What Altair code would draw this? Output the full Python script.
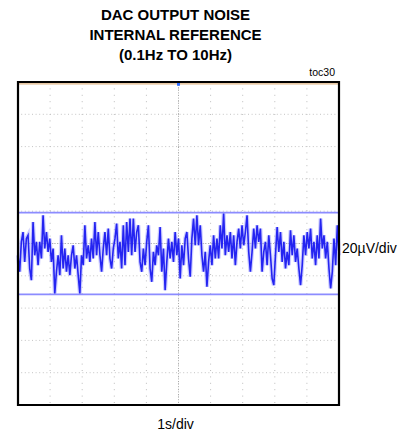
import altair as alt
import numpy as np
import pandas as pd

# ---- data (µV) ----
noise_uv = [
    # 0 - 2.5 s
    -7.3, -17.5, 1.0, 7.1, -11.4, 3.0, 5.1, -15.5, -22.7, 13.3, -7.3, 1.0, -13.4, 1.0, -9.3, 17.4,
    -3.1, 7.1, -5.2, 3.0, -11.4, -3.1, -30.9, -17.5, -7.3, -19.6, 5.1, -15.5, -3.1, -17.5, -7.3, -19.6,
    -7.3, -1.1, -15.5, -7.3, -19.6, -30.9, -7.3, -13.4, 11.3, -9.3, -1.1, -11.4, 3.0, -9.3, 13.3, -7.3, 7.1,
    # 2.5 - 5 s
    -7.3, -17.5, -3.1, 7.1, -7.3, 9.2, -9.3, -15.5, -3.1, 3.0, 12.3, -9.3, 1.0, -15.5, 11.3, -13.4,
    13.3, -5.2, 15.4, -7.3, 15.4, -5.2, 7.1, 11.3, -11.4, -17.5, -3.1, -13.4, 1.0, 11.3, -15.5, -23.7,
    -5.2, -13.4, -1.1, -7.3, 10.2, -17.5, -3.1, -28.9, -11.4, 3.0, -9.3, 1.0, -11.4, 7.1, -7.3, 3.0,
    # 5 - 7.5 s
    -21.7, -1.1, -13.4, 3.0, 7.1, -9.3, -20.6, 3.0, 15.4, -1.1, 17.4, -1.1, 11.3, -7.3, -17.5, -5.2,
    -26.8, -11.4, -1.1, -13.4, 5.1, -9.3, 3.0, -9.3, 11.3, -3.1, 18.5, -7.3, 5.1, -5.2, 7.1, -9.3,
    5.1, -13.4, 1.0, 9.2, -3.1, 11.3, -1.1, 7.1, 17.4, -5.2, -17.5, -5.2, 9.2, -3.1, 11.3, 1.0,
    # 7.5 - 10 s
    9.2, -17.5, -5.2, 1.0, -13.4, 5.1, -7.3, -21.7, -25.8, -7.3, 10.2, -5.2, 7.1, -11.4, 1.0, -15.5,
    -5.2, -13.4, 8.2, -7.3, 5.1, -11.4, -3.1, -15.5, -25.8, -13.4, 5.1, -7.3, 7.1, -3.1, 9.2, -9.3,
    1.0, -13.4, 5.1, -9.3, 15.4, -3.1, 5.1, -9.3, 1.0, -15.5, -27.8, -17.5, 3.0, -13.4, 11.3, -7.3,
]
cursor_uv = [19.1, -31.5]
x_divs = list(range(0, 11))
y_divs = list(range(-100, 101, 20))
title_lines = ["DAC OUTPUT NOISE", "INTERNAL REFERENCE", "(0.1Hz TO 10Hz)"]
x_label = "1s/div"
y_label = "20µV/div"
tag = "toc30"

FONT = "Liberation Sans, Arial, Helvetica, sans-serif"

n = len(noise_uv)
trace = pd.DataFrame({"t": np.linspace(0, 10, n), "v": noise_uv})

W, H = 321, 323
xs = alt.Scale(domain=[0, 10], nice=False, zero=False)
ys = alt.Scale(domain=[-100, 100], nice=False, zero=False)

xgrid = alt.Chart(pd.DataFrame({"x": x_divs[1:-1]})).mark_rule(
    color="#bcbcbc", strokeWidth=1, strokeDash=[1, 5.4]
).encode(x=alt.X("x:Q", scale=xs, axis=None))
ygrid = alt.Chart(pd.DataFrame({"y": y_divs[1:-1]})).mark_rule(
    color="#c4c4c4", strokeWidth=1, strokeDash=[1, 2.6]
).encode(y=alt.Y("y:Q", scale=ys, axis=None))

xcenter = alt.Chart(pd.DataFrame({"x": [5]})).mark_rule(
    color="#a8a8a8", strokeWidth=1, strokeDash=[1, 1.6]
).encode(x=alt.X("x:Q", scale=xs, axis=None))
ycenter = alt.Chart(pd.DataFrame({"y": [0]})).mark_rule(
    color="#b0b0b0", strokeWidth=1, strokeDash=[1, 1.6]
).encode(y=alt.Y("y:Q", scale=ys, axis=None))

topline = alt.Chart(pd.DataFrame({"y": [98.9]})).mark_rule(
    color="#dfb585", strokeWidth=1.3
).encode(y=alt.Y("y:Q", scale=ys, axis=None))

marker = alt.Chart(pd.DataFrame({"x": [5], "y": [98.6]})).mark_square(
    color="#2f6cff", size=9, opacity=1
).encode(x=alt.X("x:Q", scale=xs, axis=None), y=alt.Y("y:Q", scale=ys, axis=None))

cursors = alt.Chart(pd.DataFrame({"y": cursor_uv})).mark_rule(
    color="#8c8cff", strokeWidth=1.6
).encode(y=alt.Y("y:Q", scale=ys, axis=None))

line_halo = alt.Chart(trace).mark_line(color="#7070ff", strokeWidth=4, opacity=0.35).encode(
    x=alt.X("t:Q", scale=xs, axis=None),
    y=alt.Y("v:Q", scale=ys, axis=None),
)
line = alt.Chart(trace).mark_line(color="#1a1af0", strokeWidth=1.6, opacity=0.95).encode(
    x=alt.X("t:Q", scale=xs, axis=None),
    y=alt.Y("v:Q", scale=ys, axis=None),
)

frame = alt.Chart(pd.DataFrame({"x": [0], "x2": [10], "y": [-100], "y2": [100]})).mark_rect(
    fill="transparent", stroke="black", strokeWidth=2.2
).encode(
    x=alt.X("x:Q", scale=xs, axis=None), x2="x2:Q",
    y=alt.Y("y:Q", scale=ys, axis=None), y2="y2:Q",
)

def label(txt, x, y, align, size, baseline="middle"):
    return alt.Chart(pd.DataFrame({"s": [txt]})).mark_text(
        font=FONT, fontSize=size, align=align, baseline=baseline, color="black"
    ).encode(text="s:N", x=alt.value(x), y=alt.value(y))

ylab = label(y_label, 324, 167, "left", 14)
xlab = label(x_label, 157.5, 343, "center", 14)
toc = label(tag, 317, -9, "right", 10.5)

chart = alt.layer(
    xgrid, ygrid, xcenter, ycenter, topline, cursors, line_halo, line, marker, frame, ylab, xlab, toc
).properties(
    width=W,
    height=H,
    title=alt.TitleParams(
        text=title_lines,
        font=FONT,
        fontSize=15,
        fontWeight="bold",
        lineHeight=20,
        anchor="middle",
        dx=-3,
        offset=5,
        color="black",
    ),
    autosize=alt.AutoSizeParams(type="none"),
    padding={"left": 10, "top": 74, "right": 60, "bottom": 30},
).configure_view(
    stroke="black", strokeWidth=2, fill="white"
).configure(background="white")

chart.save("out.html", embed_options={"renderer": "svg", "actions": False})
